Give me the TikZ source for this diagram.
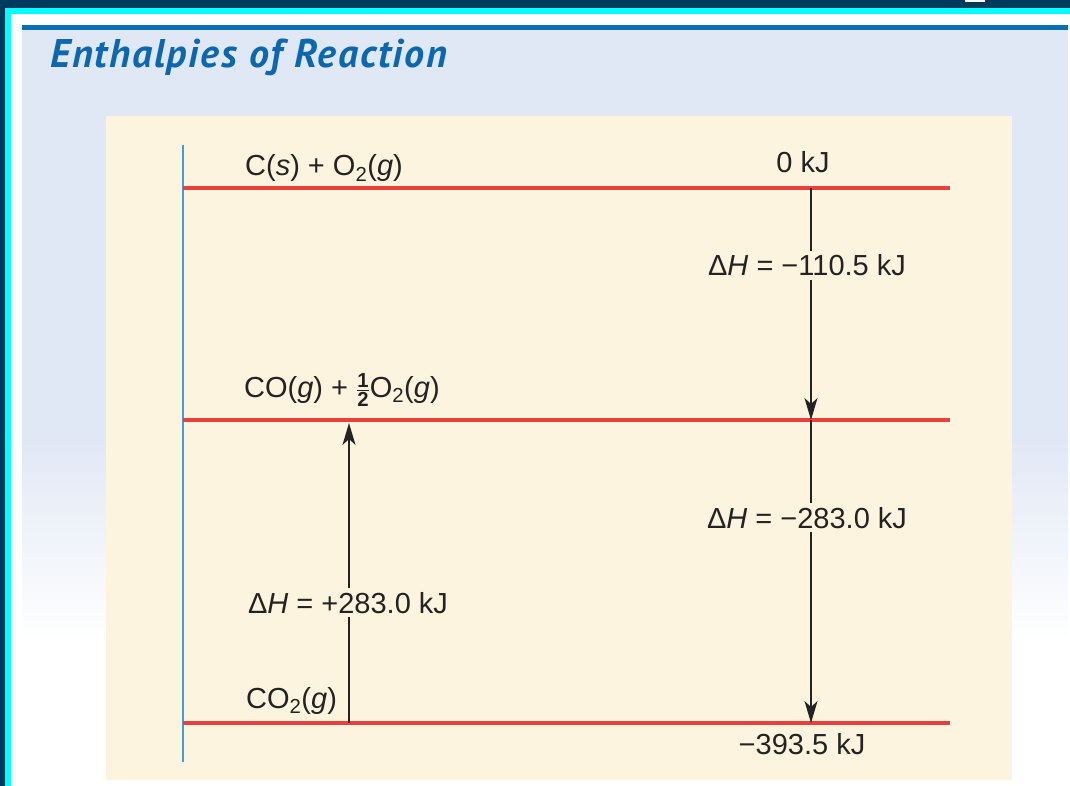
\documentclass[tikz,border=0pt]{standalone}
\usepackage{amsmath}
\usepackage{fontspec}
\setmainfont{Liberation Sans}
\newfontfamily\titlefont[LetterSpace=4.5]{PT Sans}
\usepackage{xcolor}
\usepackage{tikz}
\usetikzlibrary{arrows.meta,positioning}
\definecolor{Navy}{RGB}{0,58,92}
\definecolor{Aqua}{RGB}{0,255,255}
\definecolor{RuleBlue}{RGB}{10,110,180}
\definecolor{Lavender}{RGB}{225,232,245}
\definecolor{Cream}{RGB}{253,244,223}
\definecolor{LevelRed}{RGB}{234,64,60}
\definecolor{AxisBlue}{RGB}{57,160,216}
\definecolor{TitleBlue}{RGB}{11,104,176}
\definecolor{Ink}{RGB}{35,35,35}

\begin{document}
\begin{tikzpicture}[x=1pt,y=-1pt,
    level/.style={draw=LevelRed,line width=4pt},
    dharrow/.style={draw=Ink,line width=1.5pt,-{Stealth[length=22pt,width=13pt,inset=6pt]}},
    species/.style={anchor=base west,inner sep=0pt,text=Ink,font=\fontsize{29}{34}\selectfont},
    energy/.style={anchor=base,inner sep=0pt,text=Ink,font=\fontsize{29}{34}\selectfont},
    dhlabel/.style={anchor=base,fill=Cream,inner sep=4pt,text=Ink,font=\fontsize{29}{34}\selectfont}]
  % frame and background
  \fill[Navy] (0,0) rectangle (1070,786);
  \fill[Aqua] (5,8) rectangle (1070,786);
  \fill[white] (11,14) rectangle (1070,786);
  \fill[white] (965,0) rectangle (985,2);
  \fill[Lavender] (22,30) rectangle (1068,440);
  \shade[top color=Lavender,bottom color=white] (22,440) rectangle (1068,640);
  \fill[RuleBlue] (22,25) rectangle (1068,30);
  \node[anchor=base west,inner sep=0pt,text=TitleBlue,
        font=\titlefont\bfseries\itshape\fontsize{40}{44}\selectfont]
    (title) at (50,68) {Enthalpies of Reaction};
  \fill[Cream] (106,116) rectangle (1012,780);

  % axis and levels
  \coordinate (axtop) at (183,145);
  \coordinate (axbot) at (183,762);
  \draw[AxisBlue,line width=1.5pt] (axtop) -- (axbot);
  \coordinate (c0l) at (183,188); \coordinate (c0r) at (950,188);
  \coordinate (c1l) at (183,420); \coordinate (c1r) at (950,420);
  \coordinate (c2l) at (183,723); \coordinate (c2r) at (950,723);
  \draw[level] (c0l) -- (c0r);
  \draw[level] (c1l) -- (c1r);
  \draw[level] (c2l) -- (c2r);

  % species and energies
  \node[species] (cs) at (245,176) {C(\textit{s}) + O\textsubscript{2}(\textit{g})};
  \node[species] (co) at (244,397) {CO(\textit{g}) + $\frac{\text{\bfseries 1}}{\text{\bfseries 2}}$O\textsubscript{2}(\textit{g})};
  \node[species] (co2) at (246,708) {CO\textsubscript{2}(\textit{g})};
  \node[energy] (e0) at (803,173) {0 kJ};
  \node[energy] (e2) at (802,754) {−393.5 kJ};

  % enthalpy changes
  \coordinate (a0) at (811,188);
  \coordinate (a1) at (811,420);
  \coordinate (a2) at (811,723);
  \coordinate (b2) at (349,723);
  \coordinate (b1) at (349,423);
  \draw[dharrow] (a0) -- (a1);
  \draw[dharrow] (a1) -- (a2);
  \draw[dharrow] (b2) -- (b1);
  \node[dhlabel] (dh1) at (807,276) {Δ\textit{H} = −110.5 kJ};
  \node[dhlabel] (dh2) at (807,528) {Δ\textit{H} = −283.0 kJ};
  \node[dhlabel] (dh3) at (348,613) {Δ\textit{H} = +283.0 kJ};
\end{tikzpicture}
\end{document}
